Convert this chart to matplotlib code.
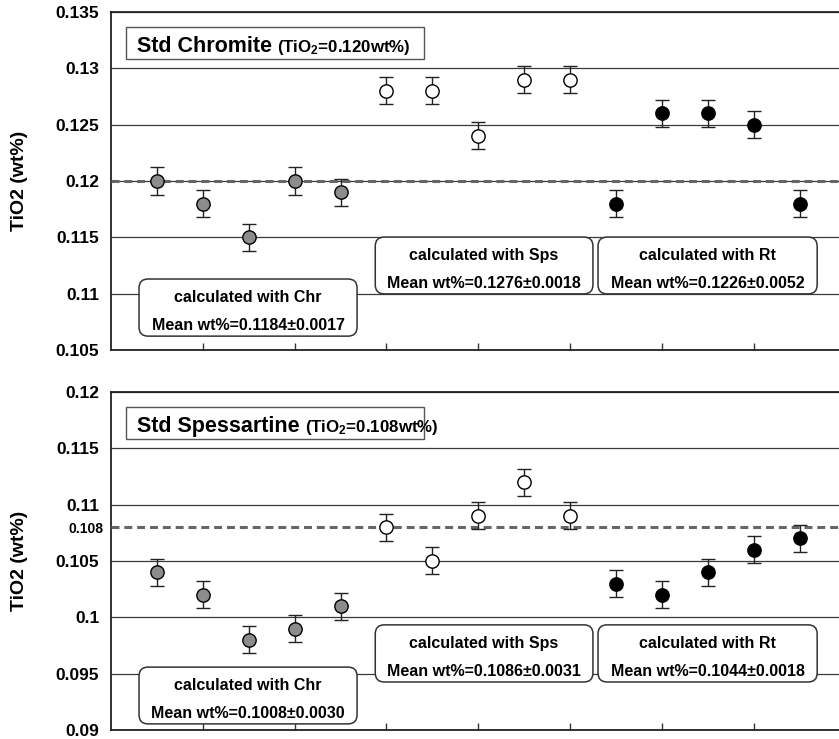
import matplotlib
matplotlib.use("Agg")
import matplotlib.pyplot as plt
from matplotlib.patches import FancyBboxPatch, Rectangle

plt.rcParams['font.family'] = ['Liberation Sans', 'DejaVu Sans']
plt.rcParams['font.weight'] = 'bold'
plt.rcParams['mathtext.fontset'] = 'custom'
plt.rcParams['mathtext.rm'] = 'Liberation Sans:bold'
plt.rcParams['mathtext.it'] = 'Liberation Sans:bold'
plt.rcParams['mathtext.bf'] = 'Liberation Sans:bold'

# analysis number 1..15, grouped by the standard used for calculation
analysis = list(range(1, 16))
calc_groups = ['Chr', 'Sps', 'Rt']
group_size = 5

chromite_tio2 = [0.120, 0.118, 0.115, 0.120, 0.119,
                 0.128, 0.128, 0.124, 0.129, 0.129,
                 0.118, 0.126, 0.126, 0.125, 0.118]
chromite_err = [0.0012] * 15
chromite_means = ['0.1184±0.0017', '0.1276±0.0018', '0.1226±0.0052']

spess_tio2 = [0.104, 0.102, 0.098, 0.099, 0.101,
              0.108, 0.105, 0.109, 0.112, 0.109,
              0.103, 0.102, 0.104, 0.106, 0.107]
spess_err = [0.0012] * 15
spess_means = ['0.1008±0.0030', '0.1086±0.0031', '0.1044±0.0018']

chromite_ticks = [0.105, 0.11, 0.115, 0.12, 0.125, 0.13, 0.135]
spess_ticks = [0.09, 0.095, 0.1, 0.105, 0.11, 0.115, 0.12]

face = {'Chr': '#8c8c8c', 'Sps': 'white', 'Rt': 'black'}

fig = plt.figure(figsize=(8.39, 7.39), dpi=100)
ax1 = fig.add_axes([0.1323, 0.5264, 0.8677, 0.4574])
ax2 = fig.add_axes([0.1323, 0.0122, 0.8677, 0.4574])

# box x ranges (axes fraction) for Chr, Sps, Rt
box_x = [(0.0385, 0.338), (0.363, 0.662), (0.669, 0.970)]


def draw_panel(ax, vals, errs, ticks, ref, name, sub, means, box_y):
    for g, grp in enumerate(calc_groups):
        xs = analysis[g * group_size:(g + 1) * group_size]
        ys = vals[g * group_size:(g + 1) * group_size]
        es = errs[g * group_size:(g + 1) * group_size]
        ax.errorbar(xs, ys, yerr=es, fmt='o', ms=9.6, mfc=face[grp], mec='black',
                    mew=1.0, ecolor='#222222', elinewidth=1.0, capsize=4.8,
                    capthick=1.0, zorder=4)
    ax.axhline(ref, color='#666666', lw=2.2, ls=(0, (2.6, 1.6)), zorder=3)

    ax.set_xlim(0, 15.86)
    ax.set_ylim(ticks[0], ticks[-1])
    ax.set_xticks(range(2, 15, 2))
    ax.set_xticklabels([])
    ax.set_yticks(ticks)
    ax.set_yticklabels(['%g' % t for t in ticks], fontsize=12.5)
    ax.tick_params(axis='x', direction='in', length=5, width=1, color='#333333')
    ax.tick_params(axis='y', length=0, pad=8.5)
    ax.yaxis.grid(True, color='#3a3a3a', lw=0.9)
    ax.set_axisbelow(True)
    ax.spines['right'].set_visible(False)
    for s in ['left', 'bottom', 'top']:
        ax.spines[s].set_linewidth(1.3)
        ax.spines[s].set_color('#222222')

    # title box
    ax.add_patch(Rectangle((0.0206, 0.861), 0.41, 0.095, transform=ax.transAxes,
                           facecolor='white', edgecolor='#555555', lw=1.0, zorder=5))
    t = ax.text(0.0357, 0.882, name, transform=ax.transAxes, fontsize=15.5,
                va='baseline', ha='left', zorder=6)
    r = fig.canvas.get_renderer()
    bb = t.get_window_extent(r)
    xs = ax.transAxes.inverted().transform((bb.x1 + 5, bb.y0))[0]
    ax.text(xs, 0.882, sub, transform=ax.transAxes, fontsize=12.2,
            va='baseline', ha='left', zorder=6)

    # mean value boxes
    aspect = (0.8677 * 839) / (0.4574 * 739)
    for g, grp in enumerate(calc_groups):
        x0, x1 = box_x[g]
        y0, y1 = box_y[g]
        ax.add_patch(FancyBboxPatch((x0, y0), x1 - x0, y1 - y0,
                                    boxstyle='round,pad=0,rounding_size=%f' % (9 / 728),
                                    mutation_aspect=aspect, transform=ax.transAxes,
                                    facecolor='white', edgecolor='#333333', lw=1.1,
                                    zorder=5))
        h = y1 - y0
        xc = (x0 + x1) / 2
        ax.text(xc, y1 - 0.40 * h, 'calculated with ' + grp, transform=ax.transAxes,
                fontsize=11.5, ha='center', va='baseline', zorder=6)
        ax.text(xc, y1 - 0.895 * h, 'Mean wt%=' + means[g], transform=ax.transAxes,
                fontsize=11.5, ha='center', va='baseline', zorder=6)


draw_panel(ax1, chromite_tio2, chromite_err, chromite_ticks, 0.120,
           'Std Chromite', r'(TiO$_2$=0.120wt%)', chromite_means,
           [(0.041, 0.210), (0.166, 0.334), (0.166, 0.334)])
draw_panel(ax2, spess_tio2, spess_err, spess_ticks, 0.108,
           'Std Spessartine', r'(TiO$_2$=0.108wt%)', spess_means,
           [(0.018, 0.186), (0.142, 0.311), (0.142, 0.311)])

# extra label for the spessartine reference value
ax2.set_yticks([0.108], minor=True)
ax2.set_yticklabels(['0.108'], minor=True, fontsize=10)
ax2.tick_params(axis='y', which='minor', length=0, pad=5.5)

fig.text(20 / 839, 1 - 181 / 739, 'TiO2 (wt%)', rotation=90, fontsize=14,
         ha='center', va='center')
fig.text(20 / 839, 1 - 561 / 739, 'TiO2 (wt%)', rotation=90, fontsize=14,
         ha='center', va='center')

fig.savefig('out.png', dpi=100)
